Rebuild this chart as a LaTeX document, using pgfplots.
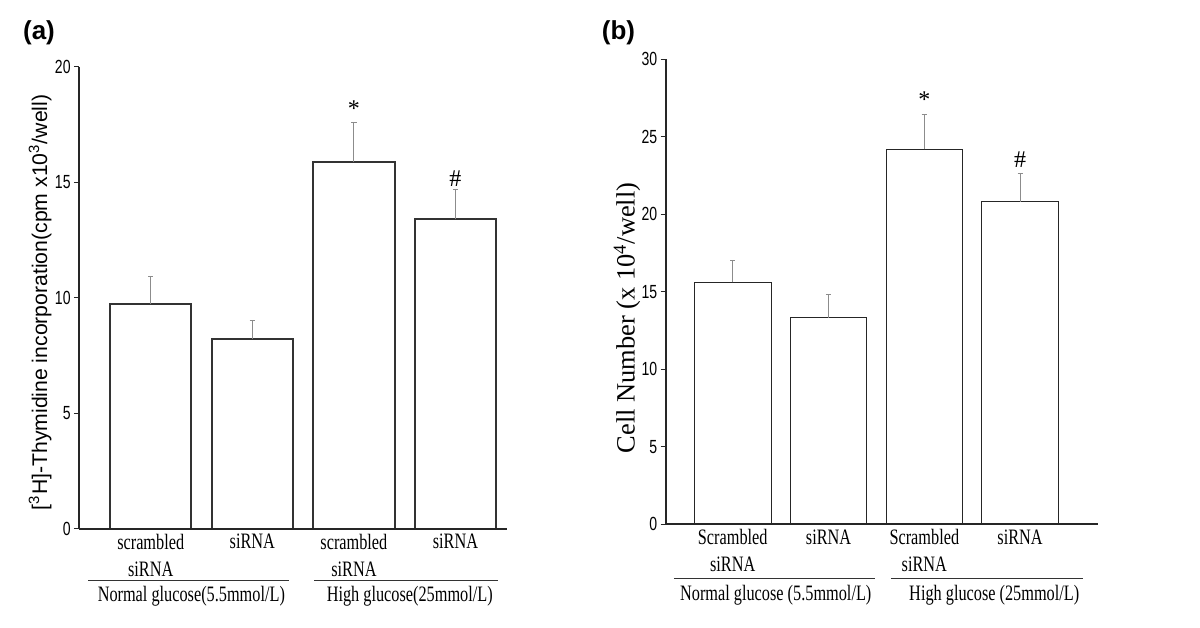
\documentclass[border=0pt]{standalone}
\usepackage{fontspec}
\setmainfont{Liberation Serif}
\setsansfont{Liberation Sans}
\newfontfamily\condserif[FakeStretch=0.74]{Liberation Serif}
\newfontfamily\condsans[FakeStretch=0.74]{Liberation Sans}
\usepackage{pgfplots}
\pgfplotsset{compat=1.18}

\definecolor{barline}{HTML}{333333}
\definecolor{errgray}{HTML}{8C8C8C}

\pgfplotsset{
  panel/.style={
    scale only axis,
    anchor=south west,
    clip=false,
    axis on top,
    axis x line=bottom, axis y line=left,
    axis line style={-, line width=0.9pt, black!85},
    xtick={0,1,2,3},
    xtick style={draw=none},
    ytick style={line width=0.6pt, black!85},
    tick align=outside,
    major tick length=2.5pt,
    yticklabel style={font=\condsans\fontsize{9.5}{11}\selectfont, inner sep=1.5pt},
    /pgf/number format/assume math mode=true,
    xticklabel style={font=\condserif\fontsize{11}{13.5}\selectfont, align=center,
      anchor=north, inner sep=0pt, yshift=0pt},
    ybar, bar width=0.8,
  },
  errs/.style={
    fill=white,
    error bars/.cd, y dir=plus, y explicit,
    error bar style={errgray, line width=0.5pt},
    error mark options={errgray, line width=0.5pt, mark size=1.3pt, rotate=90},
  },
}

\begin{document}
\begin{tikzpicture}
\path[use as bounding box] (0,0) rectangle (600pt,313.5pt);

% panel (a)
\begin{axis}[panel,
  at={(39.5pt,49.15pt)}, width=214pt, height=231pt,
  xmin=-0.706, xmax=3.507, ymin=0, ymax=20,
  ytick={0,5,10,15,20},
  xticklabels={{scrambled\\siRNA},siRNA,{scrambled\\siRNA},siRNA},
  ylabel={[\textsuperscript{3}H]-Thymidine incorporation(cpm x10\textsuperscript{3}/well)},
  ylabel style={font=\sffamily\fontsize{10.6}{12}\selectfont, at={(axis description cs:-0.091,0.49)}, anchor=center},
]
\addplot[draw=barline, line width=1pt, errs] coordinates {
  (0,9.71) +- (0,1.20)
  (1,8.21) +- (0,0.80)
  (2,15.89) +- (0,1.69)
  (3,13.39) +- (0,1.30)
};
\node[font=\fontsize{12}{14}\selectfont] at (axis cs:2,18.2) {*};
\node[font=\fontsize{12}{14}\selectfont] at (axis cs:3,15.17) {\#};
\draw[black!80, line width=0.5pt] ([yshift=-26pt]axis cs:-0.617,0) -- ([yshift=-26pt]axis cs:1.361,0);
\draw[black!80, line width=0.5pt] ([yshift=-26pt]axis cs:1.608,0) -- ([yshift=-26pt]axis cs:3.419,0);
\node[font=\condserif\fontsize{11}{13}\selectfont] at ([yshift=-34pt]axis cs:0.40,0) {Normal glucose(5.5mmol/L)};
\node[font=\condserif\fontsize{11}{13}\selectfont] at ([yshift=-34pt]axis cs:2.55,0) {High glucose(25mmol/L)};
\end{axis}
\node[font=\sffamily\bfseries\fontsize{13}{15}\selectfont] at (19.5pt,297pt) {(a)};

% panel (b)
\begin{axis}[panel,
  at={(332.85pt,51.35pt)}, width=216pt, height=232.5pt,
  xmin=-0.70, xmax=3.81, ymin=0, ymax=30,
  ytick={0,5,10,15,20,25,30},
  xticklabels={{Scrambled\\siRNA},siRNA,{Scrambled\\siRNA},siRNA},
  ylabel={Cell Number (x 10\textsuperscript{4}/well)},
  ylabel style={font=\fontsize{13.2}{15}\selectfont, at={(axis description cs:-0.0896,0.444)}, anchor=center},
]
\addplot[draw=black!85, line width=0.5pt, errs] coordinates {
  (0,15.61) +- (0,1.39)
  (1,13.33) +- (0,1.48)
  (2,24.19) +- (0,2.22)
  (3,20.81) +- (0,1.81)
};
\node[font=\fontsize{12}{14}\selectfont] at (axis cs:2,27.4) {*};
\node[font=\fontsize{12}{14}\selectfont] at (axis cs:3,23.5) {\#};
\draw[black!80, line width=0.5pt] ([yshift=-26.85pt]axis cs:-0.614,0) -- ([yshift=-26.85pt]axis cs:1.484,0);
\draw[black!80, line width=0.5pt] ([yshift=-26.85pt]axis cs:1.651,0) -- ([yshift=-26.85pt]axis cs:3.655,0);
\node[font=\condserif\fontsize{11}{13}\selectfont] at ([yshift=-35.3pt]axis cs:0.449,0) {Normal glucose (5.5mmol/L)};
\node[font=\condserif\fontsize{11}{13}\selectfont] at ([yshift=-35.3pt]axis cs:2.73,0) {High glucose (25mmol/L)};
\end{axis}
\node[font=\sffamily\bfseries\fontsize{13}{15}\selectfont] at (309.25pt,297pt) {(b)};
\end{tikzpicture}
\end{document}
